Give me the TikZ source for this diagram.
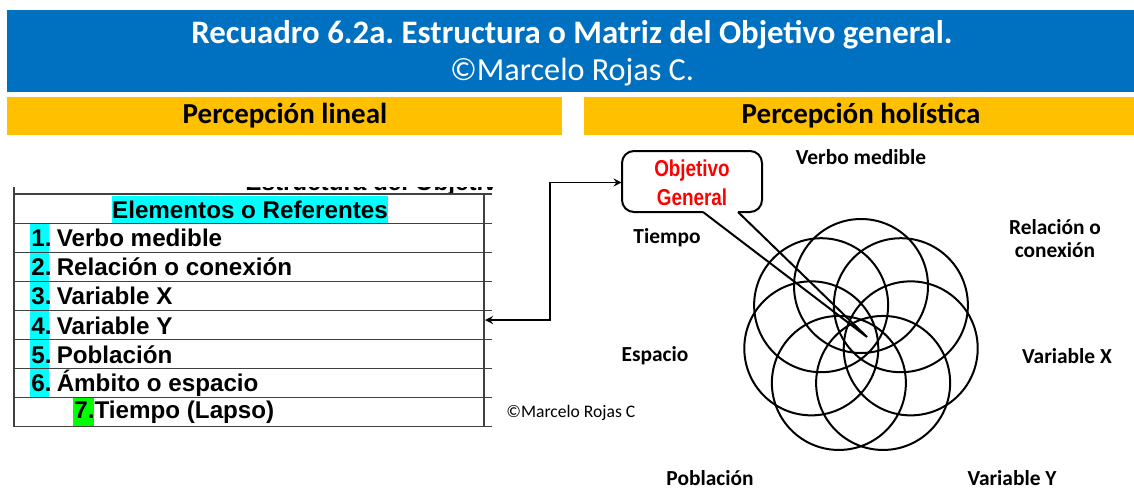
\documentclass[tikz,border=0pt]{standalone}
\usepackage{fontspec}
\setmainfont{Carlito}
\newfontfamily\arialfont{Liberation Sans}
\newfontfamily\narrowfont[FakeStretch=0.82]{Liberation Sans}
\usetikzlibrary{calc}
\definecolor{titleblue}{HTML}{0070C0}
\definecolor{baramber}{HTML}{FFC000}
\definecolor{hlcyan}{HTML}{00FFFF}
\definecolor{hlgreen}{HTML}{00FF00}
\definecolor{objred}{HTML}{FF0000}
\frenchspacing
\begin{document}
\begin{tikzpicture}[x=0.5pt,y=-0.5pt,>=stealth,
  headtxt/.style={text=white,inner sep=0pt},
  bartxt/.style={font=\bfseries\fontsize{14.5}{17}\selectfont,inner sep=0pt},
  cell/.style={font=\arialfont\bfseries\fontsize{12.1}{14}\selectfont,anchor=west,inner sep=0pt},
  lbl/.style={font=\bfseries\fontsize{10.7}{11.5}\selectfont,align=center,inner sep=0pt},
  rule/.style={line width=0.6pt,black!75},
  ring/.style={line width=1pt}]
  \useasboundingbox (0,0) rectangle (1134,489);
  % header and the two bars
  \fill[titleblue] (7,10) rectangle (1134,92);
  \node[headtxt,font=\bfseries\fontsize{16.4}{19}\selectfont] (title) at (572,35) {Recuadro 6.2a. Estructura o Matriz del Objetivo general.};
  \node[headtxt,font=\fontsize{16.1}{19}\selectfont] (author) at (572,72) {©Marcelo Rojas C.};
  \fill[baramber] (7,97) rectangle (562,135);
  \fill[baramber] (584,97) rectangle (1134,135);
  \node[bartxt] (lineal) at (285,116) {Percepción lineal};
  \node[bartxt] (holis) at (861,116) {Percepción holística};

  % table (left)
  \begin{scope}
    \clip (200,187.5) rectangle (492,193);
    \node[cell,anchor=base west] (cut) at (245,190) {Estructura del Objetivo};
  \end{scope}
  \foreach \k in {0,...,8}
    \draw[rule] (14,{194+29.1*\k}) -- (492,{194+29.1*\k});
  \draw[rule] (14,187) -- (14,426.8);
  \draw[rule] (484,194) -- (484,426.8);
  \node[cell,anchor=center,fill=hlcyan,minimum height=13.5pt] (elem) at (250,209.5) {Elementos o Referentes};
  \foreach \i/\txt in {1/Verbo medible,2/Relación o conexión,3/Variable X,4/Variable Y,5/Población,6/Ámbito o espacio} {
    \fill[hlcyan] (30,{194+29.1*\i+0.6}) rectangle (49,{194+29.1*(\i+1)-0.6});
    \node[cell] (row\i) at (31,{194+29.1*\i+15}) {\i.\hspace{2.6pt}\txt};
  }
  \fill[hlgreen] (73,{194+29.1*7+0.6}) rectangle (94,{194+29.1*8-0.6});
  \node[cell] (row7) at (74,{194+29.1*7+15}) {7.Tiempo (Lapso)};
  \node[anchor=west,inner sep=0pt,font=\fontsize{8.8}{10}\selectfont] (copy) at (506,413) {©Marcelo Rojas C};

  % bubble
  \node[minimum width=70pt,minimum height=30.5pt,inner sep=0pt,align=center,
        font=\narrowfont\bfseries\fontsize{11.5}{14.5}\selectfont,text=objred] (obj) at (692,182.5) {Objetivo\\General};
  \coordinate (tip) at (867,337);
  \draw[line width=1pt,rounded corners=6pt] (703,212) -- (622,212) -- (622,151) -- (762,151) -- (762,212) -- (738,212);
  \draw[line width=1pt] (703,212) -- (tip) (738,212) -- (tip);
  \coordinate (tblend) at (485,320);
  \draw[<->,thick] (tblend) -- (550,320) |- (obj.west);

  % seven rings
  \foreach \k in {0,...,6}
    \draw[ring] ({861+51*cos(90+\k*360/7)},{337-51*sin(90+\k*360/7)}) circle[radius=33.5pt];

  % labels round the rings
  \node[lbl] (verbo) at (861,157) {Verbo medible};
  \node[lbl] (tiempo) at (667,238) {Tiempo};
  \node[lbl] (relacion) at (1055,239) {Relación o\\conexión};
  \node[lbl] (espacio) at (655,356) {Espacio};
  \node[lbl] (varx) at (1067,356) {Variable X};
  \node[lbl] (poblacion) at (710,478) {Población};
  \node[lbl] (vary) at (1012,478) {Variable Y};
\end{tikzpicture}
\end{document}
